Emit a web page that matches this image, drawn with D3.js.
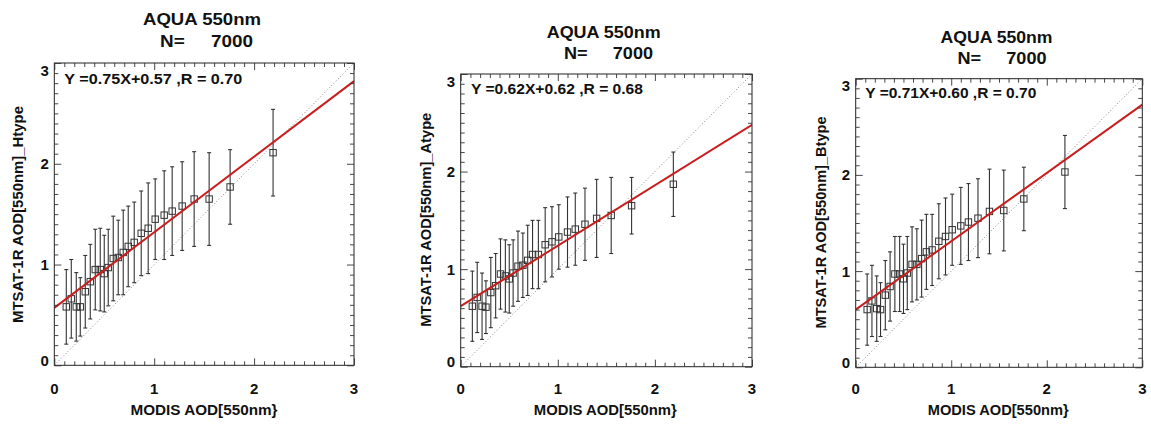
<!DOCTYPE html>
<html>
<head>
<meta charset="utf-8">
<script src="https://cdn.jsdelivr.net/npm/d3@7"></script>
<style>
  html, body { margin: 0; padding: 0; background: #fff; }
  svg { display: block; }
  text { font-family: "Liberation Sans", Arial, Helvetica, sans-serif; font-weight: bold; fill: #111; }
</style>
</head>
<body>
<svg id="chart" width="1151" height="424"></svg>
<script>
// ---------------- DATA ----------------
const modisAOD = [0.12, 0.17, 0.22, 0.26, 0.31, 0.36, 0.41, 0.46, 0.50, 0.54, 0.59, 0.64, 0.69,
                  0.74, 0.80, 0.87, 0.94, 1.01, 1.10, 1.18, 1.28, 1.40, 1.55, 1.76, 2.19];

const hMean = [0.58, 0.66, 0.58, 0.58, 0.73, 0.83, 0.95, 0.95, 0.91, 0.97, 1.06, 1.07, 1.12,
               1.18, 1.22, 1.31, 1.36, 1.45, 1.49, 1.53, 1.58, 1.65, 1.65, 1.77, 2.11];
const hStd  = [0.37, 0.39, 0.34, 0.29, 0.36, 0.37, 0.40, 0.41, 0.38, 0.38, 0.42, 0.37, 0.42,
               0.40, 0.40, 0.42, 0.45, 0.40, 0.44, 0.44, 0.44, 0.47, 0.46, 0.37, 0.43];

const aMean = [0.62, 0.71, 0.62, 0.61, 0.76, 0.83, 0.95, 0.93, 0.90, 0.96, 1.03, 1.04, 1.09,
               1.15, 1.15, 1.25, 1.28, 1.33, 1.38, 1.41, 1.46, 1.52, 1.55, 1.65, 1.87];
const aStd  = [0.36, 0.36, 0.34, 0.27, 0.36, 0.33, 0.36, 0.37, 0.35, 0.34, 0.36, 0.33, 0.36,
               0.35, 0.35, 0.38, 0.36, 0.33, 0.36, 0.37, 0.37, 0.40, 0.39, 0.29, 0.33];

const bMean = [0.60, 0.69, 0.61, 0.60, 0.75, 0.84, 0.97, 0.97, 0.92, 0.98, 1.07, 1.07, 1.13,
               1.20, 1.22, 1.31, 1.36, 1.43, 1.47, 1.51, 1.55, 1.62, 1.63, 1.75, 2.03];
const bStd  = [0.37, 0.37, 0.34, 0.28, 0.36, 0.36, 0.39, 0.39, 0.36, 0.38, 0.39, 0.37, 0.40,
               0.39, 0.37, 0.39, 0.40, 0.37, 0.40, 0.40, 0.41, 0.44, 0.42, 0.33, 0.38];

const fitSlope     = [0.75, 0.62, 0.71];
const fitIntercept = [0.57, 0.62, 0.60];
const equationText = ["Y =0.75X+0.57 ,R = 0.70", "Y =0.62X+0.62 ,R = 0.68", "Y =0.71X+0.60 ,R = 0.70"];
const yLabels      = ["MTSAT-1R AOD[550nm]_Htype", "MTSAT-1R AOD[550nm]_Atype", "MTSAT-1R AOD[550nm]_Btype"];
const xLabel       = "MODIS AOD[550nm}";
const titleLine1   = "AQUA 550nm";
const titleLine2   = "N=     7000";
const axisDomain   = [0, 3];
const majorTicks   = [0, 1, 2, 3];
const tickLabels   = ["0", "1", "2", "3"];

// ---------------- LAYOUT ----------------
const layout = [
  { l: 54.3, t: 63.0, r: 354.0, b: 365.3, t1: [202.0, 19.5], t2: [206.5, 41.5], tw: [118, 93],
    eq: [64.3, 78.5], eqw: 178, xl: [204.0, 409.5], xlw: 147, yl: [18.3, 214.5], ylw: 217 },
  { l: 460.7, t: 74.0, r: 752.0, b: 366.7, t1: [603.7, 32.0], t2: [608.5, 53.0], tw: [114, 89],
    eq: [471.0, 88.5], eqw: 172, xl: [605.3, 409.5], xlw: 143, yl: [426.0, 219.7], ylw: 214 },
  { l: 855.7, t: 78.7, r: 1142.3, b: 367.3, t1: [996.5, 37.0], t2: [1002.0, 58.5], tw: [112, 89],
    eq: [865.3, 93.0], eqw: 171, xl: [998.2, 410.0], xlw: 141, yl: [821.0, 222.5], ylw: 212 }
];

const series = [
  { mean: hMean, std: hStd },
  { mean: aMean, std: aStd },
  { mean: bMean, std: bStd }
];

const svg = d3.select("#chart");
const minorTicks = d3.range(0, 31).map(i => i / 10).filter(v => Math.abs(v - Math.round(v)) > 1e-6);

layout.forEach((L, i) => {
  const x = d3.scaleLinear().domain(axisDomain).range([L.l, L.r]);
  const y = d3.scaleLinear().domain(axisDomain).range([L.b, L.t]);
  const g = svg.append("g");
  const clipId = "clip" + i;
  svg.append("clipPath").attr("id", clipId)
    .append("rect").attr("x", L.l).attr("y", L.t).attr("width", L.r - L.l).attr("height", L.b - L.t);

  // 1:1 dotted line
  g.append("line")
    .attr("x1", x(0)).attr("y1", y(0)).attr("x2", x(3)).attr("y2", y(3))
    .attr("stroke", "#777").attr("stroke-width", 0.9).attr("stroke-dasharray", "1,2.2")
    .attr("clip-path", `url(#${clipId})`);

  const s = series[i];
  const pts = modisAOD.map((xv, k) => ({ x: xv, m: s.mean[k], sd: s.std[k] }));

  // error bars
  const eb = g.append("g").attr("stroke", "#333").attr("stroke-width", 1.1);
  eb.selectAll("line.v").data(pts).join("line").attr("class", "v")
    .attr("x1", d => x(d.x)).attr("x2", d => x(d.x))
    .attr("y1", d => y(d.m + d.sd)).attr("y2", d => y(d.m - d.sd));
  eb.selectAll("line.ct").data(pts).join("line").attr("class", "ct")
    .attr("x1", d => x(d.x) - 2).attr("x2", d => x(d.x) + 2)
    .attr("y1", d => y(d.m + d.sd)).attr("y2", d => y(d.m + d.sd));
  eb.selectAll("line.cb").data(pts).join("line").attr("class", "cb")
    .attr("x1", d => x(d.x) - 2).attr("x2", d => x(d.x) + 2)
    .attr("y1", d => y(d.m - d.sd)).attr("y2", d => y(d.m - d.sd));

  // squares
  g.append("g").selectAll("rect").data(pts).join("rect")
    .attr("x", d => x(d.x) - 3.2).attr("y", d => y(d.m) - 3.2)
    .attr("width", 6.4).attr("height", 6.4)
    .attr("fill", "none").attr("stroke", "#333").attr("stroke-width", 1);

  // regression line
  g.append("line")
    .attr("x1", x(0)).attr("y1", y(fitIntercept[i]))
    .attr("x2", x(3)).attr("y2", y(fitIntercept[i] + 3 * fitSlope[i]))
    .attr("stroke", "#c81e1e").attr("stroke-width", 2)
    .attr("clip-path", `url(#${clipId})`);

  // frame
  g.append("rect").attr("x", L.l).attr("y", L.t).attr("width", L.r - L.l).attr("height", L.b - L.t)
    .attr("fill", "none").attr("stroke", "#222").attr("stroke-width", 1);

  // ticks (inward, all four sides)
  const addAxis = (axis, tx, ty) => {
    const a = g.append("g").attr("transform", `translate(${tx},${ty})`).call(axis);
    a.select(".domain").remove();
    a.selectAll("text").remove();
    a.selectAll("line").attr("stroke", "#333").attr("stroke-width", 0.9);
  };
  [[majorTicks, 7], [minorTicks, 4]].forEach(([vals, len]) => {
    addAxis(d3.axisBottom(x).tickValues(vals).tickSize(-len), 0, L.b);
    addAxis(d3.axisTop(x).tickValues(vals).tickSize(-len), 0, L.t);
    addAxis(d3.axisLeft(y).tickValues(vals).tickSize(-len), L.l, 0);
    addAxis(d3.axisRight(y).tickValues(vals).tickSize(-len), L.r, 0);
  });

  // tick labels
  g.selectAll("text.xt").data(majorTicks).join("text").attr("class", "xt")
    .attr("x", d => x(d)).attr("y", 388.5)
    .attr("text-anchor", "middle").attr("dominant-baseline", "central")
    .attr("font-size", 15).text((d, k) => tickLabels[k]);
  g.selectAll("text.yt").data(majorTicks).join("text").attr("class", "yt")
    .attr("x", L.l - 5.5)
    .attr("y", d => y(d) + (d === axisDomain[1] ? 7 : d === axisDomain[0] ? -5 : 0))
    .attr("text-anchor", "end").attr("dominant-baseline", "central")
    .attr("font-size", 15).text((d, k) => tickLabels[k]);

  // titles
  g.append("text").attr("x", L.t1[0]).attr("y", L.t1[1])
    .attr("text-anchor", "middle").attr("dominant-baseline", "central")
    .attr("font-size", 17).attr("textLength", L.tw[0]).attr("lengthAdjust", "spacingAndGlyphs")
    .text(titleLine1);
  g.append("text").attr("x", L.t2[0]).attr("y", L.t2[1])
    .attr("text-anchor", "middle").attr("dominant-baseline", "central")
    .attr("font-size", 17).attr("textLength", L.tw[1]).attr("lengthAdjust", "spacingAndGlyphs")
    .attr("xml:space", "preserve").style("white-space", "pre")
    .text(titleLine2);

  // equation
  g.append("text").attr("x", L.eq[0]).attr("y", L.eq[1])
    .attr("dominant-baseline", "central")
    .attr("font-size", 14).attr("textLength", L.eqw).attr("lengthAdjust", "spacingAndGlyphs")
    .attr("xml:space", "preserve").style("white-space", "pre")
    .text(equationText[i]);

  // axis labels
  g.append("text").attr("x", L.xl[0]).attr("y", L.xl[1])
    .attr("text-anchor", "middle").attr("dominant-baseline", "central")
    .attr("font-size", 14).attr("textLength", L.xlw).attr("lengthAdjust", "spacingAndGlyphs")
    .text(xLabel);
  g.append("text")
    .attr("transform", `translate(${L.yl[0]},${L.yl[1]}) rotate(-90)`)
    .attr("text-anchor", "middle").attr("dominant-baseline", "central")
    .attr("font-size", 14).attr("textLength", L.ylw).attr("lengthAdjust", "spacingAndGlyphs")
    .text(yLabels[i]);
});
</script>
</body>
</html>
